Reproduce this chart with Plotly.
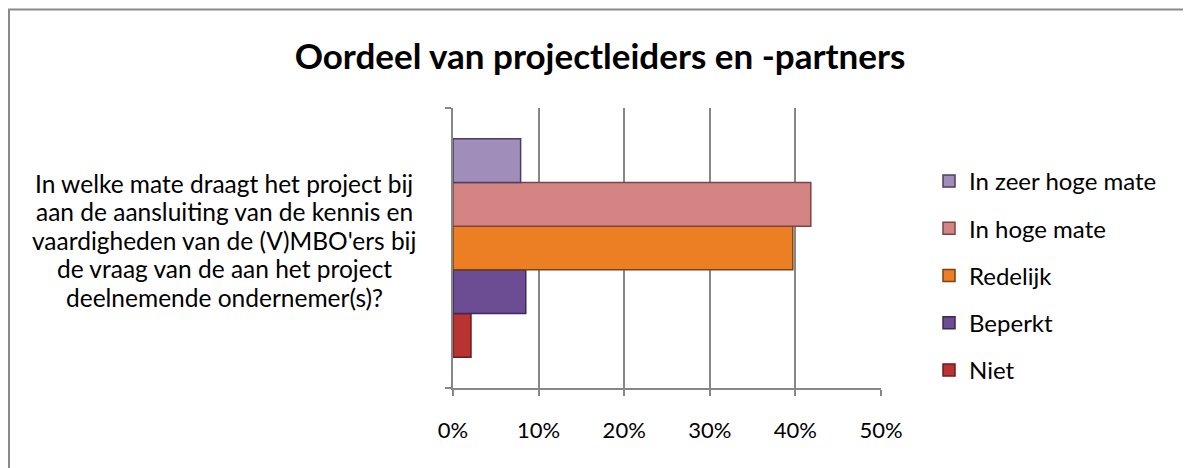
import plotly.graph_objects as go

# Data
categories = ["In welke mate draagt het project bij aan de aansluiting van de kennis en vaardigheden van de (V)MBO'ers bij de vraag van de aan het project deelnemende ondernemer(s)?"]
category_label_lines = [
    "In welke mate draagt het project bij",
    "aan de aansluiting van de kennis en",
    "vaardigheden van de (V)MBO'ers bij",
    "de vraag van de aan het project",
    "deelnemende ondernemer(s)?",
]
series_names = ["Niet", "Beperkt", "Redelijk", "In hoge mate", "In zeer hoge mate"]
series_values = [0.021, 0.085, 0.397, 0.418, 0.079]
series_colors = ["#B83331", "#6C4D94", "#EC7F24", "#D58484", "#A18DBA"]
series_lines = ["#6E1C1C", "#3B2A57", "#7A4212", "#7C4444", "#4B3E60"]

title_text = "Oordeel van projectleiders en -partners"
font_family = "Lato, 'Open Sans', sans-serif"

# page has an 8px body margin; positions below are in figure coordinates
L, T, PW, PH = 445, 100, 428, 280
W, H = 1191, 468

fig = go.Figure()
n = len(series_names)
for i, (name, val, col, lc) in enumerate(zip(series_names, series_values, series_colors, series_lines)):
    fig.add_trace(go.Bar(
        y=categories, x=[val], name=name, orientation="h",
        marker=dict(color=col, line=dict(color=lc, width=1.5)),
        legendgroup=name, legendrank=1000 + (n - i),
    ))

grid_col = "#878787"
fig.update_layout(
    width=W, height=H,
    margin=dict(l=L, r=W - L - PW, t=T, b=H - T - PH),
    paper_bgcolor="white", plot_bgcolor="white",
    barmode="group", bargap=0.22, bargroupgap=0,
    font=dict(family=font_family, size=24, color="#000000"),
    title=dict(text="<b>" + title_text + "</b>", x=592 / W, xanchor="center",
               y=1 - 49 / H, yanchor="middle",
               font=dict(family=font_family, size=35, color="#000000")),
    showlegend=True,
    legend=dict(x=476 / PW, xanchor="left", y=(T + PH - 151) / PH, yanchor="top",
                traceorder="grouped", tracegroupgap=13,
                font=dict(size=24, family=font_family, color="#000000"),
                bgcolor="rgba(0,0,0,0)"),
    xaxis=dict(range=[0, 0.5], dtick=0.1, tickformat=".0%",
               showgrid=True, gridcolor=grid_col, gridwidth=1.5,
               showline=True, linecolor=grid_col, linewidth=2,
               ticks="outside", ticklen=6, tickcolor=grid_col, tickwidth=2,
               ticklabelstandoff=16, zeroline=False,
               tickfont=dict(size=22, family=font_family, color="#000000")),
    yaxis=dict(type="category", showticklabels=False, showgrid=False,
               showline=True, linecolor=grid_col, linewidth=2,
               ticks="outside", ticklen=6, tickcolor=grid_col, tickwidth=2,
               tickson="boundaries", zeroline=False),
)

line_y0, line_gap = 175, 28.5
for i, line in enumerate(category_label_lines):
    fig.add_annotation(
        text=line, xref="paper", yref="paper",
        x=(216 - L) / PW, y=(T + PH - (line_y0 + i * line_gap)) / PH,
        xanchor="center", yanchor="middle", align="center", showarrow=False,
        font=dict(size=24.5, family=font_family, color="#000000"),
    )

# Outer chart border
fig.add_shape(type="rect", xref="paper", yref="paper",
              x0=(1 - L) / PW, x1=(1182 - L) / PW,
              y0=(T + PH - 480) / PH, y1=(T + PH - 1.5) / PH,
              line=dict(color="#8A8A8A", width=2), fillcolor="rgba(0,0,0,0)",
              layer="below")

fig.write_html("out.html")
